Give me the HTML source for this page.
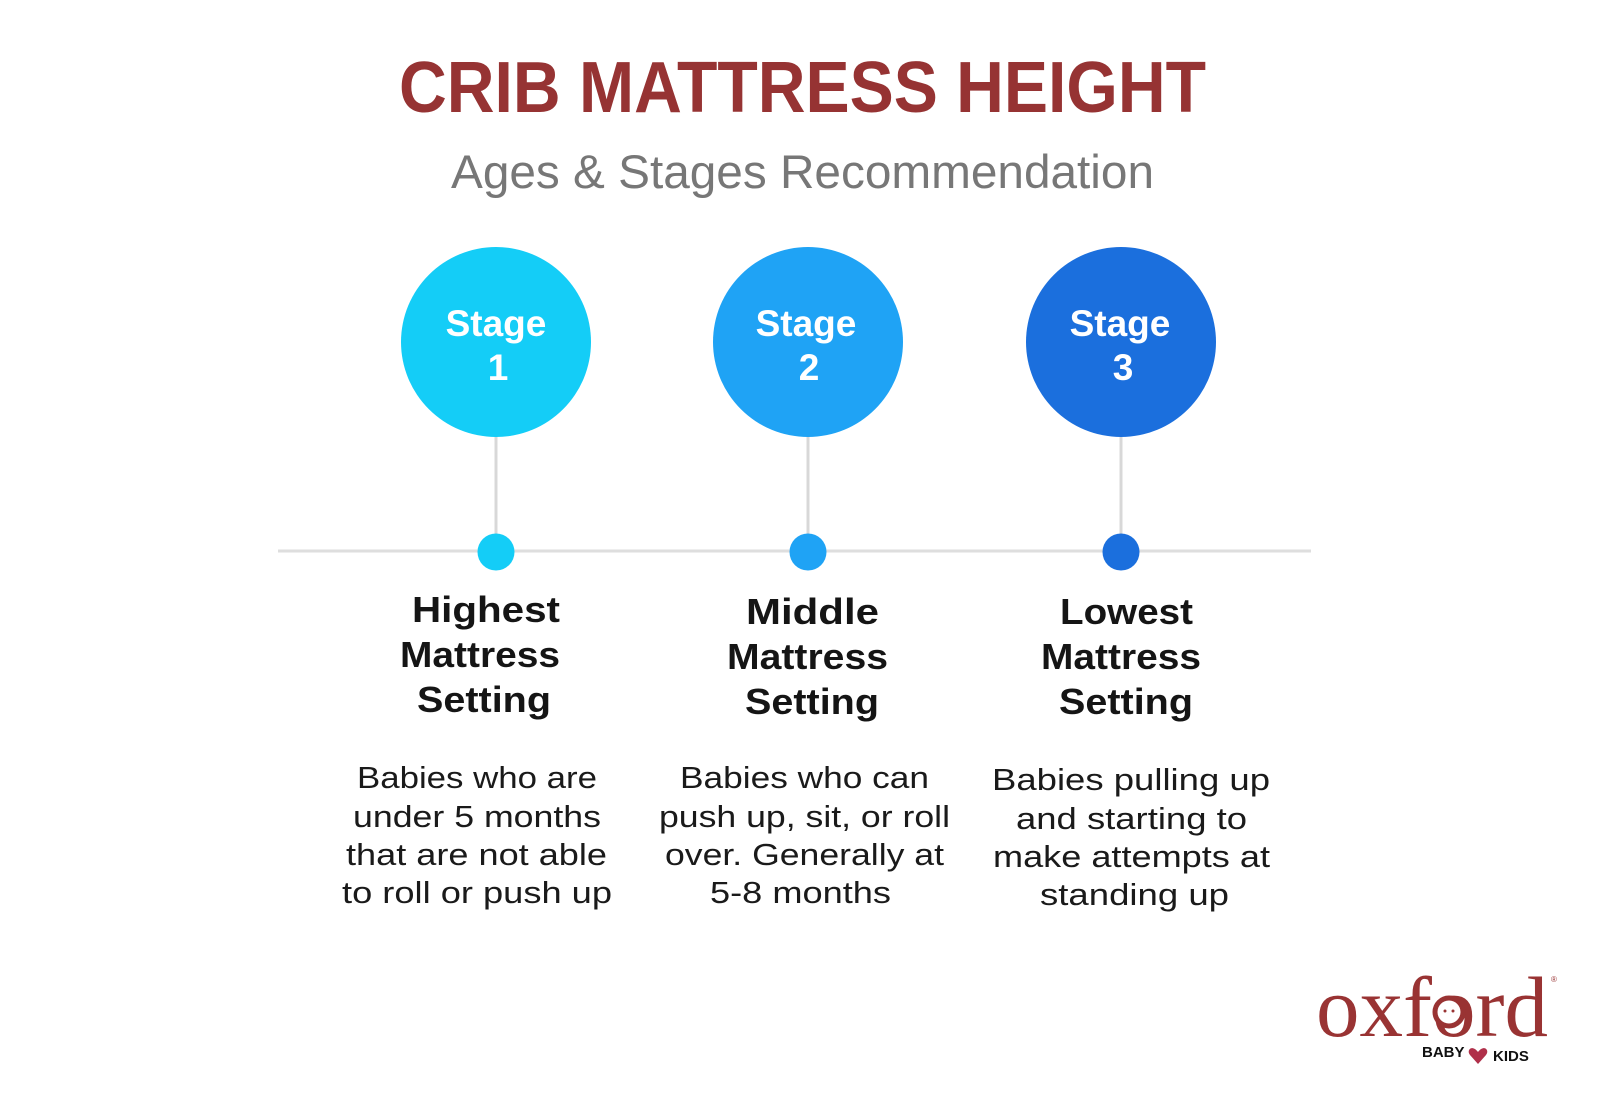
<!DOCTYPE html>
<html><head><meta charset="utf-8"><style>
html,body{margin:0;padding:0;background:#fff;}
svg{display:block;}
</style></head><body>
<svg width="1600" height="1106" viewBox="0 0 1600 1106" xmlns="http://www.w3.org/2000/svg">
<rect width="1600" height="1106" fill="#fff"/>
<g font-family="Liberation Sans, sans-serif">
<text x="399" y="112" font-size="72" font-weight="bold" fill="#963333" textLength="807" lengthAdjust="spacingAndGlyphs">CRIB MATTRESS HEIGHT</text>
<text x="451" y="188" font-size="47" fill="#777" textLength="703" lengthAdjust="spacingAndGlyphs">Ages &amp; Stages Recommendation</text>

<line x1="278" y1="551" x2="1311" y2="551" stroke="#dedede" stroke-width="3"/>
<line x1="496" y1="430" x2="496" y2="551" stroke="#d8d8d8" stroke-width="3"/>
<line x1="808" y1="430" x2="808" y2="551" stroke="#d8d8d8" stroke-width="3"/>
<line x1="1121" y1="430" x2="1121" y2="551" stroke="#d8d8d8" stroke-width="3"/>

<circle cx="496" cy="342" r="95" fill="#14cdf7"/>
<circle cx="808" cy="342" r="95" fill="#1fa3f5"/>
<circle cx="1121" cy="342" r="95" fill="#1b6fdd"/>
<circle cx="496" cy="552" r="18.5" fill="#14cdf7"/>
<circle cx="808" cy="552" r="18.5" fill="#1fa3f5"/>
<circle cx="1121" cy="552" r="18.5" fill="#1b6fdd"/>

<g fill="#fff" font-size="37" font-weight="bold" text-anchor="middle">
<text x="496" y="336">Stage</text><text x="498" y="380">1</text>
<text x="806" y="336">Stage</text><text x="809" y="380">2</text>
<text x="1120" y="336">Stage</text><text x="1123" y="380">3</text>
</g>

<g fill="#151515" font-size="36" font-weight="bold">
<text x="412" y="622" textLength="148" lengthAdjust="spacingAndGlyphs">Highest</text>
<text x="400" y="667" textLength="160" lengthAdjust="spacingAndGlyphs">Mattress</text>
<text x="417" y="712" textLength="134" lengthAdjust="spacingAndGlyphs">Setting</text>
<text x="746" y="624" textLength="133" lengthAdjust="spacingAndGlyphs">Middle</text>
<text x="727" y="669" textLength="161" lengthAdjust="spacingAndGlyphs">Mattress</text>
<text x="745" y="714" textLength="134" lengthAdjust="spacingAndGlyphs">Setting</text>
<text x="1060" y="624" textLength="133" lengthAdjust="spacingAndGlyphs">Lowest</text>
<text x="1041" y="669" textLength="160" lengthAdjust="spacingAndGlyphs">Mattress</text>
<text x="1059" y="714" textLength="134" lengthAdjust="spacingAndGlyphs">Setting</text>
</g>

<g fill="#1a1a1a" font-size="31">
<text x="357" y="788" textLength="240" lengthAdjust="spacingAndGlyphs">Babies who are</text>
<text x="353" y="827" textLength="248" lengthAdjust="spacingAndGlyphs">under 5 months</text>
<text x="346" y="865" textLength="261" lengthAdjust="spacingAndGlyphs">that are not able</text>
<text x="342" y="903" textLength="270" lengthAdjust="spacingAndGlyphs">to roll or push up</text>
<text x="680" y="788" textLength="249" lengthAdjust="spacingAndGlyphs">Babies who can</text>
<text x="659" y="827" textLength="291" lengthAdjust="spacingAndGlyphs">push up, sit, or roll</text>
<text x="665" y="865" textLength="279" lengthAdjust="spacingAndGlyphs">over. Generally at</text>
<text x="710" y="903" textLength="181" lengthAdjust="spacingAndGlyphs">5-8 months</text>
<text x="992" y="790" textLength="278" lengthAdjust="spacingAndGlyphs">Babies pulling up</text>
<text x="1016" y="829" textLength="231" lengthAdjust="spacingAndGlyphs">and starting to</text>
<text x="993" y="867" textLength="277" lengthAdjust="spacingAndGlyphs">make attempts at</text>
<text x="1040" y="905" textLength="189" lengthAdjust="spacingAndGlyphs">standing up</text>
</g>

<text x="1316" y="1036" font-family="Liberation Serif, serif" font-size="86" fill="#993333" textLength="232" lengthAdjust="spacingAndGlyphs">oxford</text>
<circle cx="1449" cy="1012" r="14" fill="#fff" stroke="#993333" stroke-width="5"/>
<circle cx="1445" cy="1011" r="1.5" fill="#993333"/><circle cx="1453" cy="1011" r="1.5" fill="#993333"/>
<text x="1551" y="982" font-size="8" fill="#993333">®</text>
<text x="1422" y="1057" font-size="15" font-weight="bold" fill="#111">BABY</text>
<path d="M1478 1052 c-6 -8 -12 -2 -8 3 l8 9 l8 -9 c4 -5 -2 -11 -8 -3z" fill="#b0304a"/>
<text x="1493" y="1061" font-size="15" font-weight="bold" fill="#111">KIDS</text>
</g>
</svg>
</body></html>
